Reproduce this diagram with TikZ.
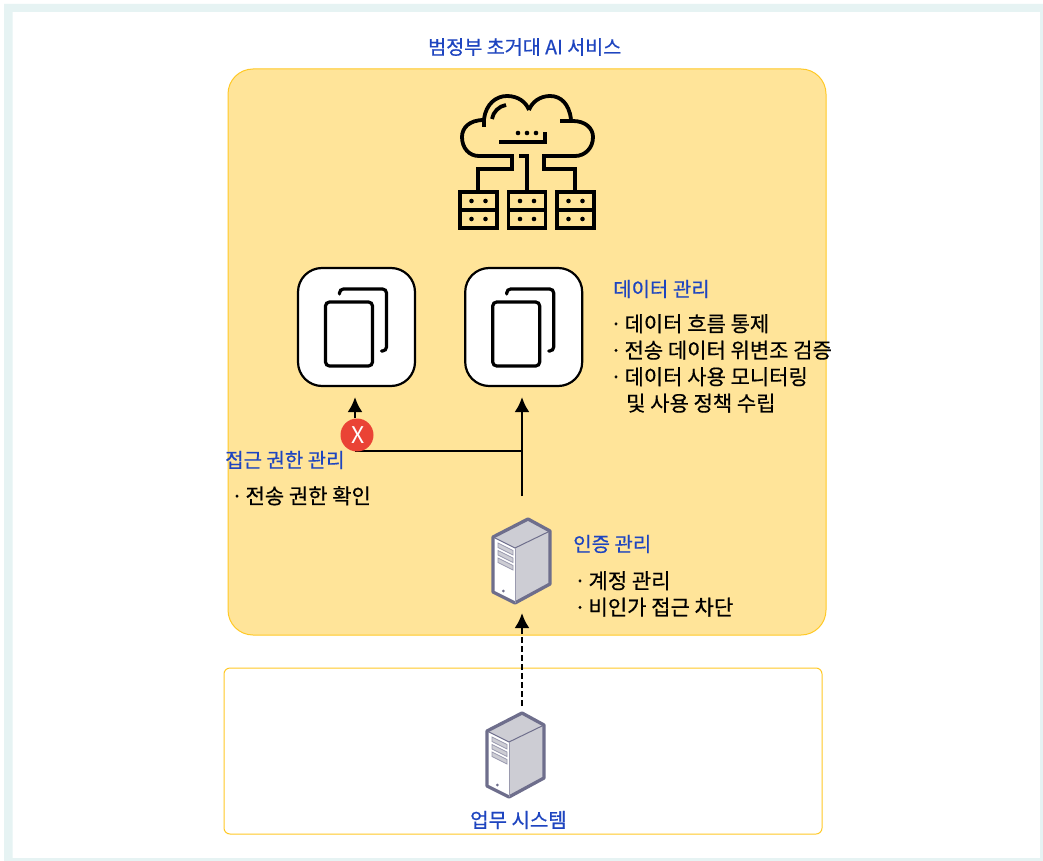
\documentclass[tikz,border=0pt]{standalone}
\usepackage{fontspec}
\setmainfont{Noto Sans CJK KR}[FakeBold=0.6]
\newfontfamily\plainfont{Noto Sans CJK KR}
\usetikzlibrary{arrows.meta,calc,positioning}
\definecolor{framegreen}{HTML}{E6F3F3}
\definecolor{boxyellow}{HTML}{FFE499}
\definecolor{edgeyellow}{HTML}{FFC926}
\definecolor{titleblue}{HTML}{1E45C0}
\definecolor{serverline}{HTML}{6E6E8C}
\definecolor{servergray}{HTML}{CDCDD4}
\definecolor{crossred}{HTML}{EA4335}
\newcommand{\bul}{·\kern-.1em\ }
\tikzset{
        svc/.style = {draw=edgeyellow, fill=boxyellow, line width=1pt,
            rounded corners=25pt},
        legacy/.style = {draw=edgeyellow, fill=white, line width=1pt,
            rounded corners=6pt},
        docbox/.style = {draw, fill=white, line width=2.2pt, rectangle,
            rounded corners=24pt,
            minimum height=118pt,
            minimum width=117pt},
        head/.style = {text=titleblue, inner sep=0pt, anchor=west,
            font=\fontsize{20}{24}\selectfont},
        items/.style = {text=black, inner sep=0pt, anchor=north west, align=left,
            font=\fontsize{21}{26.5}\selectfont},
        arrow/.style = {draw, line width=2.7pt, -{Latex[length=15pt,width=15pt]}},
        noarrow/.style = {draw, line width=2.5pt},
        cross/.style = {circle, fill=crossred, text=white, minimum size=33pt,
            inner sep=0pt, font=\plainfont\fontsize{23}{24}\selectfont},
        docicon/.pic = {
            \draw[line width=3.2pt, rounded corners=4pt] (-31,-25) rectangle (16,39);
            \draw[line width=3.2pt, line cap=round, rounded corners=4pt]
                (-17,-33) -- (-17,-38) -- (30,-38) -- (30,24) -- (25,24);
        },
        servericon/.pic = {
            \fill[servergray] (7,-42) -- (29,-30) -- (29,23) -- (-6,42) -- (-28,31) -- (-28,-24) -- cycle;
            \fill[white] (-28,-24) -- (-6,-13) -- (-6,42) -- (-28,31) -- cycle;
            \draw[serverline, line width=3.3pt, line join=round]
                (7,-42) -- (29,-30) -- (29,23) -- (-6,42) -- (-28,31) -- (-28,-24) -- cycle;
            \draw[serverline, line width=1pt] (-28,-24) -- (-6,-13) -- (29,-30);
            \draw[serverline!70, line width=1pt] (-6,-13) -- (-6,42);
            \foreach \y in {-18,-10.5,-3} {
                \fill[servergray, draw=serverline!70, line width=.8pt]
                    (-23,\y) -- (-8,\y+7.5) -- (-8,\y+12) -- (-23,\y+4.5) -- cycle;
            }
            \fill[serverline] (-17.7,30) circle (1.5);
        },
        cloudicon/.pic = {
            \begin{scope}[line width=3.8pt]
            % cloud outline
            \draw (-43,-33) -- (-43,-40) .. controls (-58,-40) and (-65,-32) .. (-65,-23)
                .. controls (-65,-12) and (-58,-4) .. (-48,-4) -- (-15,-4) -- (-15,9) -- (-49,9) -- (-49,32);
            \draw (-8,-4) -- (0,-4) -- (0,32);
            \draw (33,-39) -- (46,-39) .. controls (58,-39) and (66,-32) .. (66,-23)
                .. controls (66,-12) and (58,-4) .. (48,-4) -- (17,-4) -- (17,9) -- (48,9) -- (48,32);
            \draw (-43,-41) .. controls (-41,-56) and (-31,-64) .. (-20,-64)
                .. controls (-9,-64) and (-1,-58) .. (2,-50);
            \draw (2,-50) .. controls (5,-58) and (13,-64) .. (23,-64)
                .. controls (34,-64) and (42,-56) .. (44,-41);
            \draw (-35,-41) .. controls (-34,-48) and (-28,-54) .. (-21,-55);
            \draw (-28,-18) -- (18,-18) -- (18,-28);
            % racks
            \foreach \x in {-48.5,0,48.5} {
                \draw (\x-18.5,32) rectangle (\x+18.5,68);
                \draw (\x-18.5,50) -- (\x+18.5,50);
                \foreach \y in {41,59} {
                    \fill (\x-7,\y) circle (2.3);
                    \fill (\x+7,\y) circle (2.3);
                }
            }
            \foreach \x in {-9,0,9} { \fill (\x,-27) circle (2.3); }
            \end{scope}
        },
    }

\begin{document}
\begin{tikzpicture}[x=1pt,y=-1pt]
    \useasboundingbox (0,0) rectangle (1043,861);
    \fill[white] (0,0) rectangle (1043,861);
    \fill[framegreen, even odd rule] (4,4) rectangle (1043,861) (12.5,12) rectangle (1040,858);

    \draw[svc] (228,69) rectangle (826,635);
    \draw[legacy] (224,668) rectangle (822,834);

    \node[head, font=\fontsize{19.6}{24}\selectfont] (title) at (428,47) {범정부 초거대 AI 서비스};
    \pic at (527,160) {cloudicon};

    \node[docbox] (docA) at (356.5,327) {};
    \node[docbox, right=48pt of docA] (docB) {};
    \pic at (docA) {docicon};
    \pic at (docB) {docicon};

    \node[head] (dataHead) at (613,289) {데이터 관리};
    \node[items] (dataList) at (610,314) {\bul 데이터 흐름 통제\\\bul 전송 데이터 위변조 검증\\\bul 데이터 사용 모니터링\\\hspace{16pt}및 사용 정책 수립};

    \coordinate (tipA) at (355,397);
    \coordinate (tipB) at (522,397);
    \coordinate (branch) at (522,451);
    \coordinate (corner) at (355,451);
    \coordinate (authTop) at (522,496);

    \draw[noarrow] (corner) -- (branch);
    \draw[arrow] (authTop) -- (tipB);
    \node[cross] (deny) at (357,435) {\hspace{2pt}X};
    \draw[arrow] (deny.north -| tipA) -- (tipA);

    \node[head] (accessHead) at (225,460) {접근 권한 관리};
    \node[items] (accessList) at (231,486) {\bul 전송 권한 확인};

    \pic at (521,561) {servericon};
    \node[head] (authHead) at (573,544) {인증 관리};
    \node[items] (authList) at (574,571) {\bul 계정 관리\\\bul 비인가 접근 차단};

    \coordinate (bizTop) at (522,706);
    \coordinate (authBottom) at (522,613);
    \draw[arrow, dash pattern=on 6pt off 3pt] (bizTop) -- (authBottom);

    \pic at (515,755) {servericon};
    \node[head] (bizHead) at (470,820) {업무 시스템};
\end{tikzpicture}
\end{document}
